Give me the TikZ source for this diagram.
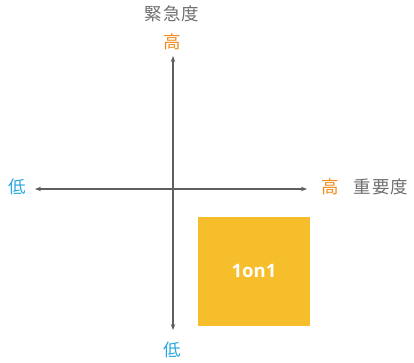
\documentclass[tikz,border=0pt]{standalone}
\usepackage{fontspec}
\newfontfamily\cjk{Noto Sans CJK JP}
\setmainfont{Open Sans}
\usetikzlibrary{arrows.meta,positioning}
\definecolor{axisgray}{HTML}{5F5F5F}
\definecolor{textgray}{HTML}{6E6E6E}
\definecolor{highorange}{HTML}{F08A1C}
\definecolor{lowblue}{HTML}{2AA7E0}
\definecolor{boxyellow}{HTML}{F7BE2C}

\begin{document}
\begin{tikzpicture}[x=1pt,y=-1pt]
\tikzset{every node/.style={inner sep=0pt,font=\cjk\fontsize{17.5}{17.5}\selectfont},
  axis/.style={axisgray,line width=1.2pt,{Stealth[length=6pt,width=4.5pt]}-{Stealth[length=6pt,width=4.5pt]}},
  high/.style={text=highorange},
  low/.style={text=lowblue},
  title/.style={text=textgray}}
\useasboundingbox (0,0) rectangle (414,362);
% axes
\coordinate (left) at (35,189);
\coordinate (right) at (307,189);
\coordinate (top) at (173,56);
\coordinate (bottom) at (173,330);
\draw [axis] (left) -- (right);
\draw [axis] (top) -- (bottom);
% labels
\node [high] (hightop) at (172,42) {高};
\node [title] (urgency) at (172,14) {緊\kern1pt 急\kern1pt 度};
\node [low] (lowleft) at (17,187) {低};
\node [high] (highright) at (330,187) {高};
\node [title] (importance) at (381,187) {重\kern1pt 要\kern1pt 度};
\node [low] (lowbottom) at (172,350) {低};
% quadrant
\fill [boxyellow] (198,217) rectangle (310,326);
\node [text=white,font=\bfseries\fontsize{18.5}{18.5}\selectfont] (meeting) at (254,271) {1on1};
\end{tikzpicture}
\end{document}
